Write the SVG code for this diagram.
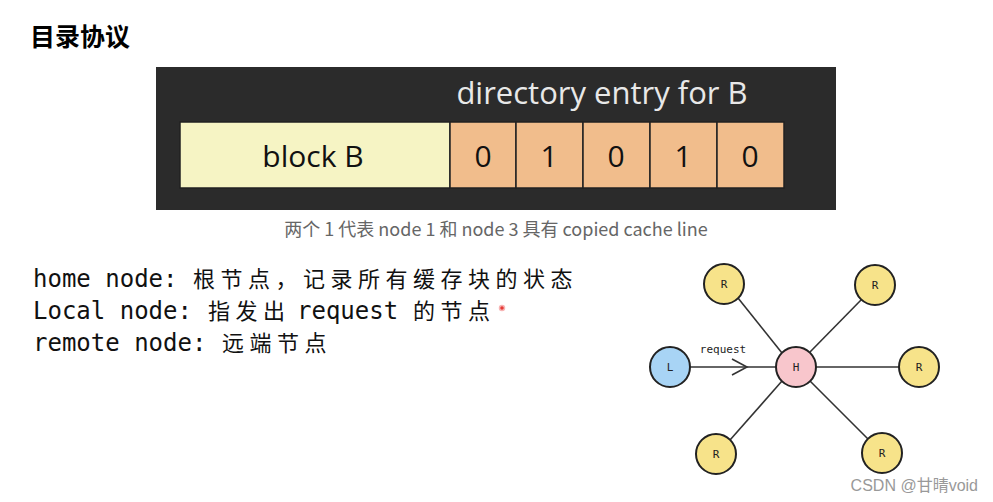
<svg xmlns="http://www.w3.org/2000/svg" width="993" height="502" viewBox="0 0 993 502">
<style>
.cjk{font-family:"Noto Sans CJK SC","Liberation Sans",sans-serif}
.mono{font-family:"DejaVu Sans Mono","Noto Sans CJK SC",monospace;font-size:24px;fill:#111}
.zh{font-family:"Noto Sans CJK SC",sans-serif;font-size:22px;letter-spacing:5.5px}
.cell{fill:#f1bd8c;stroke:#222;stroke-width:1.5}
.num{font-family:"Open Sans","Liberation Sans",sans-serif;font-size:30px;fill:#111;text-anchor:middle}
.r{fill:#f7e38a;stroke:#222;stroke-width:2}
.lbl{font-family:"DejaVu Sans Mono",monospace;font-size:11px;fill:#222;text-anchor:middle}
.edge{stroke:#333;stroke-width:1.6;fill:none}
</style>
<rect width="993" height="502" fill="#fff"/>
<text x="30" y="46" class="cjk" font-size="25" font-weight="bold" fill="#000">目录协议</text>
<g id="entry">
<rect x="156" y="67" width="680" height="143" fill="#2b2b2b"/>
<text x="602" y="104" font-family="Open Sans,Liberation Sans,sans-serif" font-size="31" fill="#e8e8e8" text-anchor="middle">directory entry for B</text>
<rect x="180" y="122" width="270" height="66" fill="#f6f4c4" stroke="#222" stroke-width="1.5"/>
<text x="313" y="167" class="num" font-size="33">block B</text>
<rect class="cell" x="450" y="122" width="66" height="66"/>
<rect class="cell" x="516" y="122" width="67" height="66"/>
<rect class="cell" x="583" y="122" width="67" height="66"/>
<rect class="cell" x="650" y="122" width="67" height="66"/>
<rect class="cell" x="717" y="122" width="67" height="66"/>
<text x="483" y="167" class="num">0</text>
<text x="549" y="167" class="num">1</text>
<text x="616" y="167" class="num">0</text>
<text x="683" y="167" class="num">1</text>
<text x="750" y="167" class="num">0</text>
</g>
<text x="496" y="236" class="cjk" font-size="18" fill="#666" text-anchor="middle">两个 1 代表 node 1 和 node 3 具有 copied cache line</text>
<text x="33" y="287" class="mono">home node:<tspan x="193" class="zh">根节点，记录所有缓存块的状态</tspan></text>
<text x="33" y="319" class="mono">Local node:<tspan x="208" class="zh">指发出</tspan><tspan x="297">request</tspan><tspan x="413" class="zh">的节点</tspan></text>
<text x="33" y="351" class="mono">remote node:<tspan x="222" class="zh">远端节点</tspan></text>
<circle cx="502" cy="308" r="2.5" fill="#e53935" stroke="#f7b5b5" stroke-width="1.5"/>
<g id="connectors">
<line class="edge" x1="690" y1="367" x2="776" y2="367" stroke-width="2"/>
<polyline class="edge" points="732,359 747,367 732,375"/>
<line class="edge" x1="816" y1="367" x2="899" y2="367"/>
<line class="edge" x1="738" y1="298" x2="782" y2="353"/>
<line class="edge" x1="862" y1="299" x2="810" y2="352"/>
<line class="edge" x1="730" y1="440" x2="782" y2="381"/>
<line class="edge" x1="868" y1="439" x2="810" y2="381"/>
</g>
<text x="723" y="353" class="lbl" font-size="10">request</text>
<g id="L"><circle cx="670" cy="367" r="20" fill="#a8d4f5" stroke="#222" stroke-width="2"/><text x="670" y="371" class="lbl">L</text></g>
<g id="H"><circle cx="796" cy="367" r="20" fill="#f8c6cc" stroke="#222" stroke-width="2"/><text x="796" y="371" class="lbl">H</text></g>
<g id="R1"><circle class="r" cx="724" cy="284" r="20"/><text x="724" y="288" class="lbl">R</text></g>
<g id="R2"><circle class="r" cx="875" cy="285" r="20"/><text x="875" y="289" class="lbl">R</text></g>
<g id="R3"><circle class="r" cx="919" cy="367" r="20"/><text x="919" y="371" class="lbl">R</text></g>
<g id="R4"><circle class="r" cx="716" cy="454" r="20"/><text x="716" y="458" class="lbl">R</text></g>
<g id="R5"><circle class="r" cx="882" cy="453" r="20"/><text x="882" y="457" class="lbl">R</text></g>
<text x="978" y="491" font-family="Liberation Sans,Noto Sans CJK SC,sans-serif" font-size="16" fill="#999" text-anchor="end">CSDN @甘晴void</text>
</svg>
